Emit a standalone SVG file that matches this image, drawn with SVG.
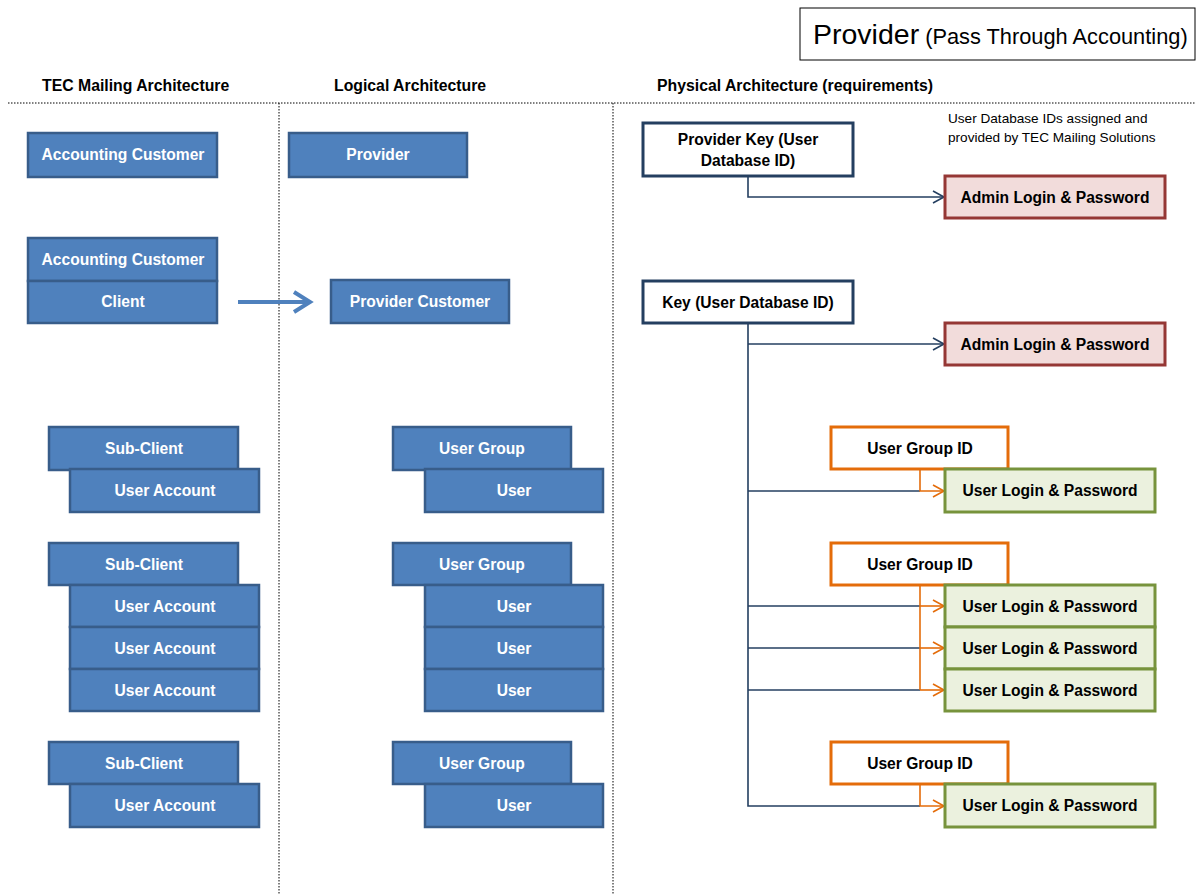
<svg xmlns="http://www.w3.org/2000/svg" width="1196" height="894" viewBox="0 0 1196 894">
<defs>
<style>
.bx{fill:#4F81BD;stroke:#385D8A;stroke-width:2.5}
.bt{font-family:"Liberation Sans",Arial,sans-serif;font-weight:bold;font-size:15.6px;fill:#fff;text-anchor:middle}
.dt{font-family:"Liberation Sans",Arial,sans-serif;font-weight:bold;font-size:15.6px;fill:#000;text-anchor:middle}
.hd{font-family:"Liberation Sans",Arial,sans-serif;font-weight:bold;font-size:15.8px;fill:#000}
.key{fill:#fff;stroke:#243F60;stroke-width:3}
.adm{fill:#F2DCDB;stroke:#953735;stroke-width:3}
.ug{fill:#fff;stroke:#E46C0A;stroke-width:3}
.ulp{fill:#EBF1DE;stroke:#77933C;stroke-width:3}
.nv{fill:none;stroke:#243F60;stroke-width:1.6}
.or{fill:none;stroke:#E46C0A;stroke-width:1.6}
.dot{fill:none;stroke:#000;stroke-width:1;stroke-dasharray:1.5 1.5}
</style>
<marker id="an" markerWidth="14" markerHeight="14" refX="12" refY="7" orient="auto" markerUnits="userSpaceOnUse"><path d="M1,1 L12,7 L1,13" fill="none" stroke="#243F60" stroke-width="1.6"/></marker>
<marker id="ao" markerWidth="14" markerHeight="14" refX="12" refY="7" orient="auto" markerUnits="userSpaceOnUse"><path d="M1,1 L12,7 L1,13" fill="none" stroke="#E46C0A" stroke-width="1.6"/></marker>
<marker id="ab" markerWidth="26" markerHeight="26" refX="20" refY="13" orient="auto" markerUnits="userSpaceOnUse"><path d="M4,3 L20,13 L4,23" fill="none" stroke="#4F81BD" stroke-width="4"/></marker>
</defs>

<g id="title">
<rect x="800" y="8" width="395" height="52" fill="#fff" stroke="#000" stroke-width="1"/>
<text x="813" y="44" font-family="'Liberation Sans',Arial,sans-serif" font-size="28.5" fill="#000">Provider<tspan font-size="21.8" dx="6">(Pass Through Accounting)</tspan></text>
</g>

<g id="headers">
<text class="hd" x="42" y="91">TEC Mailing Architecture</text>
<text class="hd" x="334" y="91">Logical Architecture</text>
<text class="hd" x="657" y="91">Physical Architecture (requirements)</text>
<line class="dot" x1="8" y1="103" x2="1196" y2="103"/>
<line class="dot" x1="279" y1="103" x2="279" y2="894"/>
<line class="dot" x1="613" y1="103" x2="613" y2="894"/>
</g>

<g id="note">
<text font-family="'Liberation Sans',Arial,sans-serif" font-size="13.6" fill="#000"><tspan x="948" y="123">User Database IDs assigned and</tspan><tspan x="948" y="142">provided by TEC Mailing Solutions</tspan></text>
</g>

<!-- TEC Mailing Architecture -->
<g id="tec-accounting-customer"><rect class="bx" x="28" y="133" width="189" height="44"/><text class="bt" x="123" y="160">Accounting Customer</text></g>
<g id="tec-accounting-customer-2"><rect class="bx" x="28" y="238" width="189" height="43"/><text class="bt" x="123" y="265">Accounting Customer</text></g>
<g id="tec-client"><rect class="bx" x="28" y="281" width="189" height="42"/><text class="bt" x="123" y="307">Client</text></g>

<g id="tec-subclient-1"><rect class="bx" x="49" y="427" width="189" height="43"/><text class="bt" x="144" y="454">Sub-Client</text></g>
<g id="tec-useraccount-1"><rect class="bx" x="70" y="469" width="189" height="43"/><text class="bt" x="165" y="496">User Account</text></g>

<g id="tec-subclient-2"><rect class="bx" x="49" y="543" width="189" height="42"/><text class="bt" x="144" y="570">Sub-Client</text></g>
<g id="tec-useraccount-2a"><rect class="bx" x="70" y="585" width="189" height="42"/><text class="bt" x="165" y="612">User Account</text></g>
<g id="tec-useraccount-2b"><rect class="bx" x="70" y="627" width="189" height="42"/><text class="bt" x="165" y="654">User Account</text></g>
<g id="tec-useraccount-2c"><rect class="bx" x="70" y="669" width="189" height="42"/><text class="bt" x="165" y="696">User Account</text></g>

<g id="tec-subclient-3"><rect class="bx" x="49" y="742" width="189" height="42"/><text class="bt" x="144" y="769">Sub-Client</text></g>
<g id="tec-useraccount-3"><rect class="bx" x="70" y="784" width="189" height="43"/><text class="bt" x="165" y="811">User Account</text></g>

<!-- Logical Architecture -->
<g id="log-provider"><rect class="bx" x="289" y="133" width="178" height="44"/><text class="bt" x="378" y="160">Provider</text></g>
<g id="log-provider-customer"><rect class="bx" x="331" y="280" width="178" height="43"/><text class="bt" x="420" y="307">Provider Customer</text></g>

<g id="log-usergroup-1"><rect class="bx" x="393" y="427" width="178" height="43"/><text class="bt" x="482" y="454">User Group</text></g>
<g id="log-user-1"><rect class="bx" x="425" y="469" width="178" height="43"/><text class="bt" x="514" y="496">User</text></g>

<g id="log-usergroup-2"><rect class="bx" x="393" y="543" width="178" height="42"/><text class="bt" x="482" y="570">User Group</text></g>
<g id="log-user-2a"><rect class="bx" x="425" y="585" width="178" height="42"/><text class="bt" x="514" y="612">User</text></g>
<g id="log-user-2b"><rect class="bx" x="425" y="627" width="178" height="42"/><text class="bt" x="514" y="654">User</text></g>
<g id="log-user-2c"><rect class="bx" x="425" y="669" width="178" height="42"/><text class="bt" x="514" y="696">User</text></g>

<g id="log-usergroup-3"><rect class="bx" x="393" y="742" width="178" height="42"/><text class="bt" x="482" y="769">User Group</text></g>
<g id="log-user-3"><rect class="bx" x="425" y="784" width="178" height="43"/><text class="bt" x="514" y="811">User</text></g>

<!-- Connectors -->
<g id="connectors">
<line x1="238" y1="302" x2="310" y2="302" stroke="#4F81BD" stroke-width="4" marker-end="url(#ab)"/>
<path class="nv" d="M748,176 V197 H944" marker-end="url(#an)"/>
<path class="nv" d="M748,323 V806 H920"/>
<path class="nv" d="M748,344 H944" marker-end="url(#an)"/>
<path class="nv" d="M748,491 H920"/>
<path class="nv" d="M748,606 H920"/>
<path class="nv" d="M748,648 H920"/>
<path class="nv" d="M748,690 H920"/>
<path class="or" d="M920,469 V491 H944" marker-end="url(#ao)"/>
<path class="or" d="M920,585 V690"/>
<path class="or" d="M920,606 H944" marker-end="url(#ao)"/>
<path class="or" d="M920,648 H944" marker-end="url(#ao)"/>
<path class="or" d="M920,690 H944" marker-end="url(#ao)"/>
<path class="or" d="M920,784 V806 H944" marker-end="url(#ao)"/>
</g>

<!-- Physical Architecture -->
<g id="phy-provider-key"><rect class="key" x="643" y="123" width="210" height="53"/><text class="dt" x="748"><tspan x="748" y="145">Provider Key (User</tspan><tspan x="748" y="166">Database ID)</tspan></text></g>
<g id="phy-admin-1"><rect class="adm" x="945" y="176" width="220" height="42"/><text class="dt" x="1055" y="203">Admin Login &amp; Password</text></g>
<g id="phy-key"><rect class="key" x="643" y="281" width="210" height="42"/><text class="dt" x="748" y="308">Key (User Database ID)</text></g>
<g id="phy-admin-2"><rect class="adm" x="945" y="323" width="220" height="42"/><text class="dt" x="1055" y="350">Admin Login &amp; Password</text></g>

<g id="phy-usergroupid-1"><rect class="ug" x="831" y="427" width="177" height="42"/><text class="dt" x="920" y="454">User Group ID</text></g>
<g id="phy-ulp-1"><rect class="ulp" x="945" y="469" width="210" height="43"/><text class="dt" x="1050" y="496">User Login &amp; Password</text></g>

<g id="phy-usergroupid-2"><rect class="ug" x="831" y="543" width="177" height="42"/><text class="dt" x="920" y="570">User Group ID</text></g>
<g id="phy-ulp-2a"><rect class="ulp" x="945" y="585" width="210" height="42"/><text class="dt" x="1050" y="612">User Login &amp; Password</text></g>
<g id="phy-ulp-2b"><rect class="ulp" x="945" y="627" width="210" height="42"/><text class="dt" x="1050" y="654">User Login &amp; Password</text></g>
<g id="phy-ulp-2c"><rect class="ulp" x="945" y="669" width="210" height="42"/><text class="dt" x="1050" y="696">User Login &amp; Password</text></g>

<g id="phy-usergroupid-3"><rect class="ug" x="831" y="742" width="177" height="42"/><text class="dt" x="920" y="769">User Group ID</text></g>
<g id="phy-ulp-3"><rect class="ulp" x="945" y="784" width="210" height="43"/><text class="dt" x="1050" y="811">User Login &amp; Password</text></g>
</svg>
